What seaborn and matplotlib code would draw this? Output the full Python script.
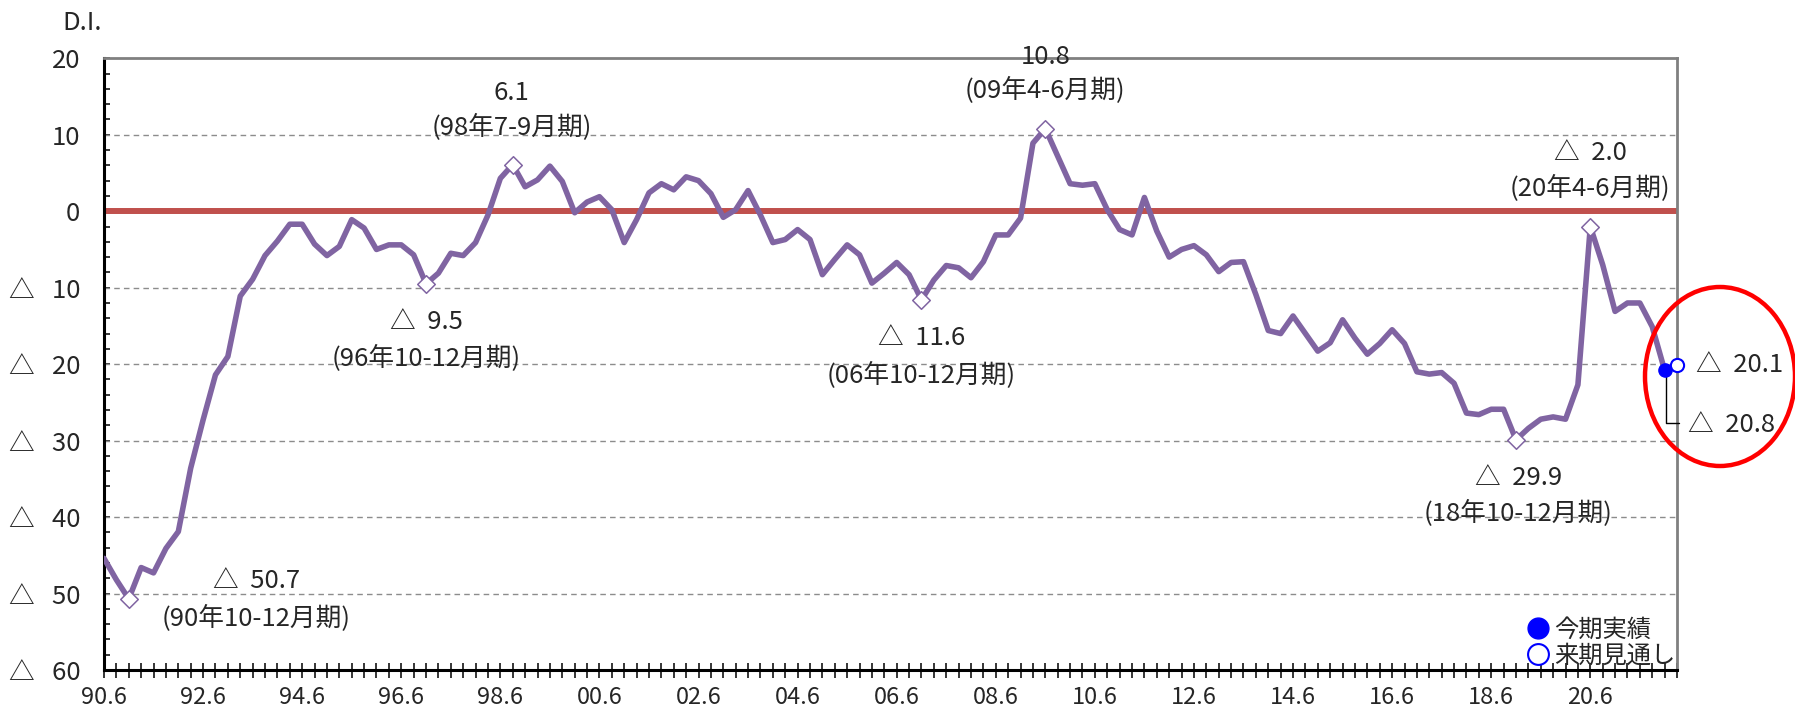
import numpy as np
import pandas as pd
import matplotlib
matplotlib.use("Agg")
import matplotlib.pyplot as plt
from matplotlib.patches import Ellipse
from matplotlib.lines import Line2D
import seaborn as sns

# Quarterly business-conditions D.I., 1990 Apr-Jun through 2021 Oct-Dec
di_values = [
    -45.4, -48.2, -50.7, -46.6, -47.3, -44.1, -41.9, -33.6, -27.3, -21.4,
    -19.0, -11.1, -8.9, -5.8, -3.9, -1.7, -1.7, -4.3, -5.8, -4.6,
    -1.1, -2.2, -5.0, -4.4, -4.4, -5.7, -9.5, -8.1, -5.5, -5.8,
    -4.1, -0.5, 4.3, 6.1, 3.2, 4.1, 5.9, 3.9, -0.2, 1.2,
    1.9, 0.2, -4.1, -1.1, 2.4, 3.6, 2.8, 4.5, 4.0, 2.3,
    -0.8, 0.2, 2.7, -0.5, -4.1, -3.7, -2.4, -3.7, -8.3, -6.3,
    -4.4, -5.7, -9.4, -8.1, -6.7, -8.3, -11.6, -9.0, -7.1, -7.4,
    -8.7, -6.6, -3.1, -3.1, -0.9, 8.9, 10.8, 7.2, 3.6, 3.4,
    3.6, 0.2, -2.4, -3.1, 1.8, -2.6, -6.0, -5.0, -4.5, -5.7,
    -7.9, -6.7, -6.6, -10.9, -15.6, -16.0, -13.7, -16.0, -18.3, -17.2,
    -14.2, -16.6, -18.7, -17.3, -15.5, -17.3, -21.0, -21.3, -21.1, -22.5,
    -26.4, -26.6, -25.9, -25.9, -29.9, -28.4, -27.2, -26.9, -27.2, -22.7,
    -2.0, -7.0, -13.1, -12.0, -12.0, -15.1, -20.8,
]
# Outlook for the following quarter (2022 Jan-Mar)
outlook_value = -20.1

tick_labels = ["90.6", "92.6", "94.6", "96.6", "98.6", "00.6", "02.6", "04.6",
               "06.6", "08.6", "10.6", "12.6", "14.6", "16.6", "18.6", "20.6"]

# Turning points marked with diamonds
peak_index = [2, 26, 33, 66, 76, 114, 120]
peak_period = ["90年10-12月期", "96年10-12月期", "98年7-9月期", "06年10-12月期",
               "09年4-6月期", "18年10-12月期", "20年4-6月期"]

legend_labels = ["今期実績", "来期見通し"]

# ---------------------------------------------------------------- styling
sns.set_theme(style="white")
plt.rcParams["font.family"] = ["Noto Sans CJK JP", "DejaVu Sans"]

PURPLE = "#8064A2"
ZERO_RED = "#C0504D"
BLUE = "#0000FF"
GRID = "#8C8C8C"
FS = 18.5


def fmt(v):
    return f"{v:.1f}" if v >= 0 else f"△  {abs(v):.1f}"


W, H = 1795, 711
fig = plt.figure(figsize=(W / 100, H / 100), dpi=100)
left, right, top, bottom = 104, 1677, 58.3, 670
ax = fig.add_axes([left / W, 1 - bottom / H, (right - left) / W, (bottom - top) / H])

df = pd.DataFrame({"q": np.arange(len(di_values)), "di": di_values})
n_total = len(di_values) + 1  # including the outlook quarter

# dashed grid
for g in [10, -10, -20, -30, -40, -50]:
    ax.axhline(g, color=GRID, lw=1.0, ls=(0, (4, 3)), zorder=1)
ax.axhline(0, color=ZERO_RED, lw=4.3, zorder=2)

sns.lineplot(data=df, x="q", y="di", ax=ax, color=PURPLE, lw=4.0, zorder=4,
             legend=False)

peaks = df.iloc[peak_index]
sns.scatterplot(data=peaks, x="q", y="di", ax=ax, marker="D", s=80,
                facecolor="white", edgecolor=PURPLE, linewidth=1.1, zorder=5,
                legend=False)

last_q = df["q"].iloc[-1]
last_v = df["di"].iloc[-1]
ax.plot([last_q], [last_v], marker="o", ms=9.5, mfc=BLUE, mec=BLUE,
        ls="", zorder=6, clip_on=False)
ax.plot([last_q + 1], [outlook_value], marker="o", ms=9.5, mfc="white",
        mec=BLUE, mew=1.5, ls="", zorder=6, clip_on=False)

# leader from the latest result to its label
ax.plot([last_q + 0.15, last_q + 0.15, last_q + 1.2], [last_v, -27.7, -27.7],
        color="black", lw=1.0, zorder=5, clip_on=False)

ax.text(last_q + 2.5, outlook_value, fmt(outlook_value), fontsize=FS,
        ha="left", va="center", clip_on=False)
ax.text(last_q + 1.9, -27.9, fmt(last_v), fontsize=FS,
        ha="left", va="center", clip_on=False)

# value / period annotations around the turning points
label_pos = {
    2: (12.3, -48.4, -53.1),
    26: (26.0, -14.5, -19.2),
    33: (32.9, 15.5, 11.1),
    66: (66.0, -16.6, -21.4),
    76: (76.0, 20.2, 15.9),
    114: (114.2, -34.9, -39.4),
    120: (120.0, 7.65, 3.1),
}
for idx, period in zip(peak_index, peak_period):
    x, y1, y2 = label_pos[idx]
    ax.text(x, y1, fmt(di_values[idx]), fontsize=FS, ha="center", va="center",
            zorder=7, clip_on=False)
    ax.text(x, y2, f"({period})", fontsize=FS, ha="center", va="center",
            zorder=7, clip_on=False)

# axes
ax.set_xlim(0, n_total - 1)
ax.set_ylim(-60, 20)
ax.set_xticks(np.arange(0, n_total, 8)[: len(tick_labels)])
ax.set_xticklabels(tick_labels)
ax.set_xticks(np.arange(0, n_total), minor=True)
ax.tick_params(axis="x", which="both", direction="inout", length=10.8,
               width=1.1, color="black", labelsize=17, pad=6.0)
yt = np.arange(-60, 21, 10)
ax.set_yticks(yt)
ax.set_yticklabels(["0" if v == 0 else (str(v) if v > 0 else f"△   {abs(v)}")
                    for v in yt])
ax.set_yticks(np.arange(-60, 21, 2), minor=True)
ax.tick_params(axis="y", which="both", direction="in", length=4.5, width=1.1,
               color="black", labelsize=FS, pad=17.0)
ax.tick_params(axis="both", which="both", left=True, bottom=True)
ax.set_xlabel("")
ax.set_ylabel("")
ax.grid(False)
for s in ["left", "bottom"]:
    ax.spines[s].set_color("black")
    ax.spines[s].set_linewidth(2.2)
for s in ["top", "right"]:
    ax.spines[s].set_color("#808080")
    ax.spines[s].set_linewidth(2.0)
ax.set_facecolor("white")

handles = [
    Line2D([], [], marker="o", ls="", ms=15, mfc=BLUE, mec=BLUE),
    Line2D([], [], marker="o", ls="", ms=15, mfc="white", mec=BLUE, mew=1.5),
]
ax.legend(handles, legend_labels, loc="lower right", bbox_to_anchor=(1.0, 0.0),
          frameon=False, fontsize=17.5, handlelength=0.8, handletextpad=0.3,
          labelspacing=0.02, borderpad=0.0, borderaxespad=0.05)

fig.text(62 / W, 1 - 23 / H, "D.I.", fontsize=FS, ha="left", va="center")

fig.add_artist(Ellipse((1720 / W, 1 - 376.5 / H), width=150 / W, height=179 / H,
                       transform=fig.transFigure, fill=False,
                       edgecolor="#FF0000", lw=3.2))

fig.savefig("out.png", dpi=100, facecolor="white")
